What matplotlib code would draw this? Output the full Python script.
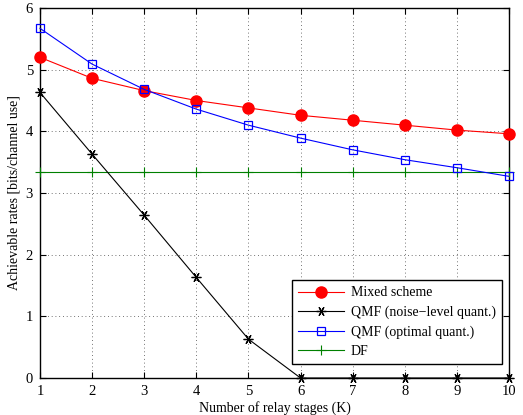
import numpy as np
import matplotlib
matplotlib.use("Agg")
import matplotlib.pyplot as plt

plt.rcParams['font.family'] = ['Liberation Serif', 'DejaVu Serif']
plt.rcParams['mathtext.fontset'] = 'stix'

# relay stages
K = [1, 2, 3, 4, 5, 6, 7, 8, 9, 10]
# achievable rates
mixed = [5.20, 4.86, 4.66, 4.50, 4.38, 4.26, 4.18, 4.10, 4.02, 3.96]
qmf_noise = [4.63, 3.63, 2.64, 1.63, 0.63, 0.0, 0.0, 0.0, 0.0, 0.0]
qmf_opt = [5.67, 5.09, 4.68, 4.36, 4.10, 3.89, 3.70, 3.54, 3.41, 3.27]
df = [3.34] * 10

fig = plt.figure(figsize=(5.23, 4.15), dpi=100)
ax = fig.add_axes([40/523, 1 - 378/415, 469/523, 370/415])

ax.plot(K, mixed, '-', color='red', lw=0.8, marker='o', ms=8,
        mfc='red', mec='red', label='Mixed scheme', clip_on=False, zorder=4)
ax.plot(K, qmf_noise, '-', color='black', lw=0.8, marker=(6, 2, 30), ms=7,
        mew=0.9, label='QMF (noise\u2212level quant.)', clip_on=False, zorder=5)
ax.plot(K, qmf_opt, '-', color='blue', lw=0.8, marker='s', ms=6,
        mfc='none', mec='blue', mew=0.9, label='QMF (optimal quant.)', clip_on=False, zorder=4)
ax.plot(K, df, '-', color='green', lw=0.8, marker='+', ms=7,
        mew=0.8, label='DF', clip_on=False, zorder=3)

ax.set_xlim(1, 10)
ax.set_ylim(0, 6)
ax.set_xticks(K)
ax.set_yticks([0, 1, 2, 3, 4, 5, 6])
ax.grid(True, linestyle=(0, (1, 3.5)), color='#444444', lw=0.6)
ax.tick_params(direction='in', top=True, right=True, labelsize=10.5, length=4, pad=5)
for s in ax.spines.values():
    s.set_linewidth(1.0)

ax.set_xlabel('Number of relay stages (K)', fontsize=10, labelpad=2)
ax.set_ylabel('Achievable rates [bits/channel use]', fontsize=10, labelpad=4)

leg = ax.legend(loc='lower right', bbox_to_anchor=(1.0, 0.018), fontsize=10,
                fancybox=False, edgecolor='black', framealpha=1,
                handlelength=3.3, handletextpad=0.5, borderpad=0.45, labelspacing=0.45)
leg.get_frame().set_linewidth(1.0)

fig.savefig('out.png', dpi=100)
